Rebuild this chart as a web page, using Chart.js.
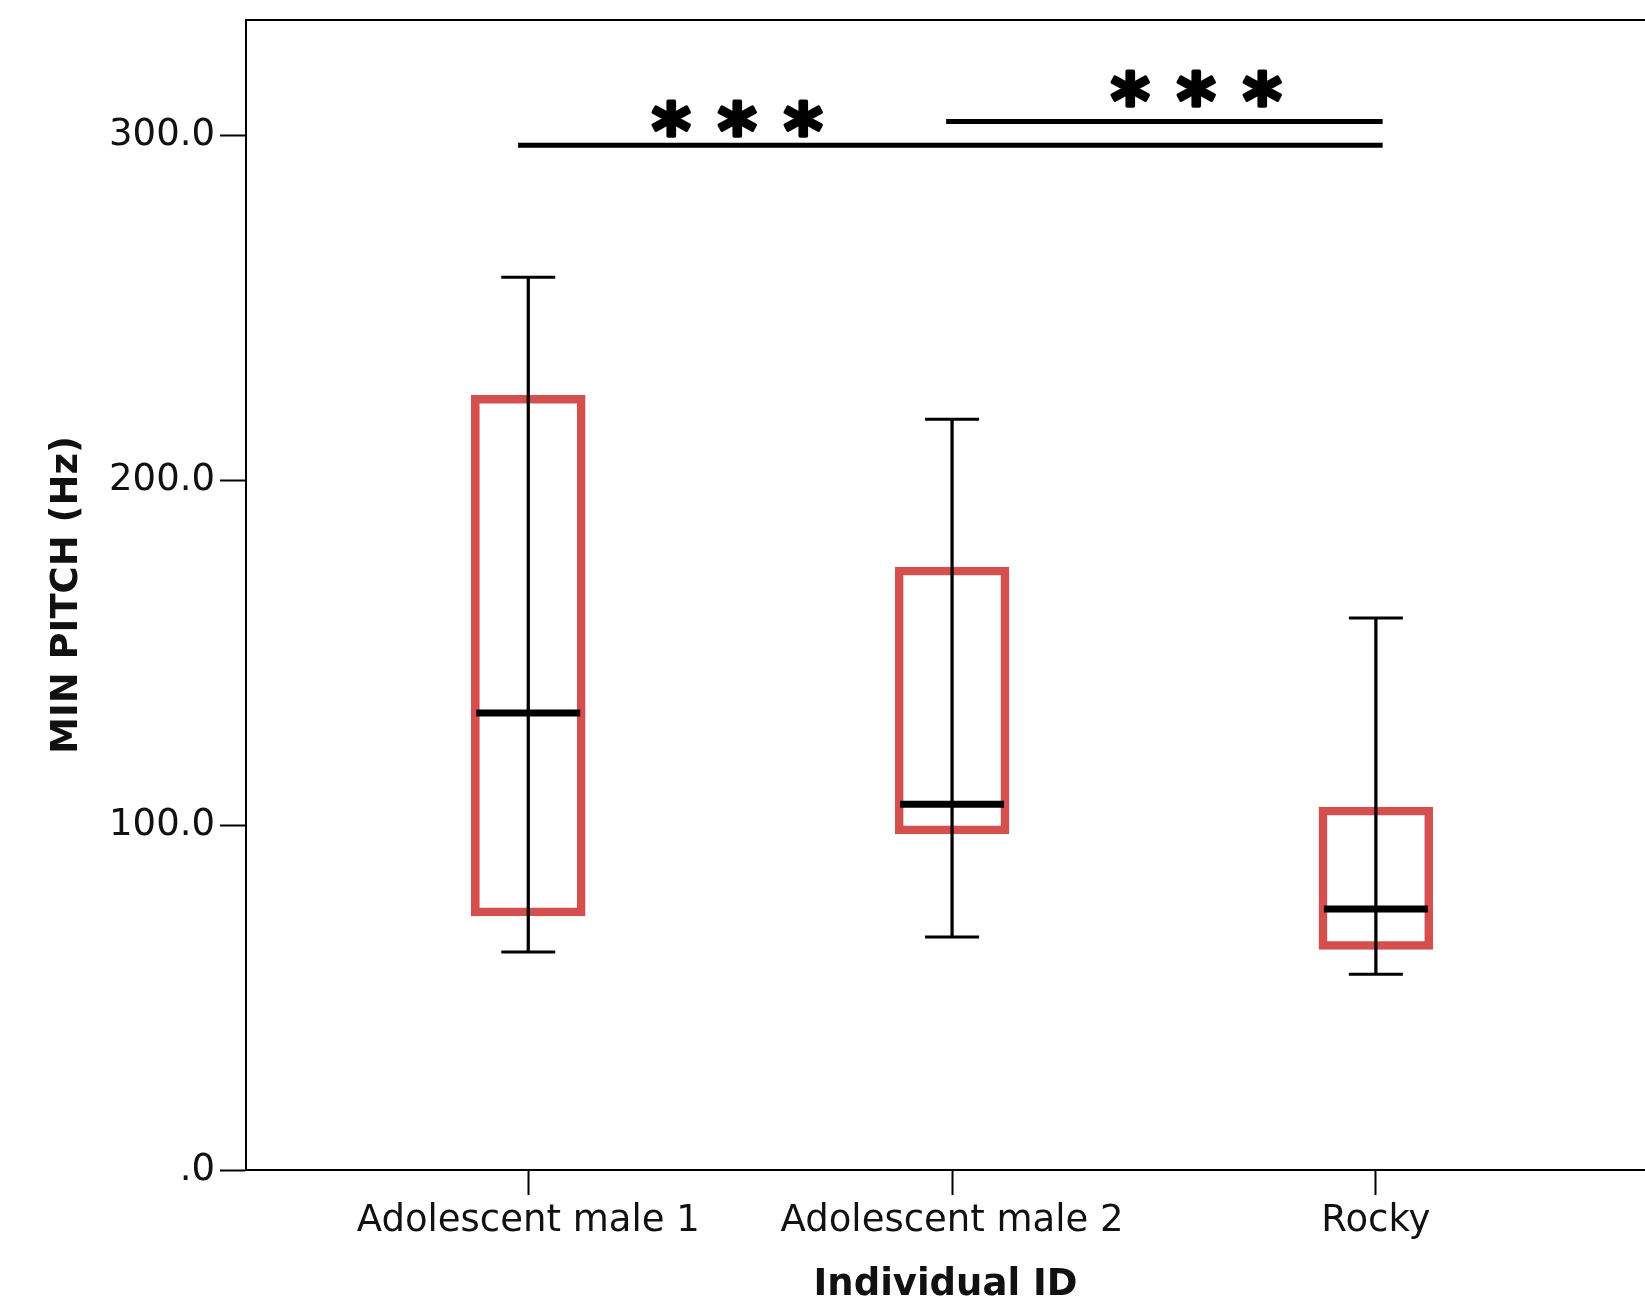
<!DOCTYPE html>
<html>
<head>
<meta charset="utf-8">
<script src="https://cdn.jsdelivr.net/npm/chart.js@4"></script>
<style>
  html, body { margin: 0; padding: 0; background: #ffffff; }
  #wrap { width: 1645px; height: 1308px; }
</style>
</head>
<body>
<div id="wrap"><canvas id="c" width="1645" height="1308"></canvas></div>
<script>
// ---- data ----
const categories = ['Adolescent male 1', 'Adolescent male 2', 'Rocky'];
const whiskerLow  = [63.2, 67.6, 56.8];
const q1          = [74.8, 98.6, 65.1];
const median      = [132.5, 106.1, 75.7];
const q3          = [223.5, 173.7, 104.1];
const whiskerHigh = [258.9, 217.7, 160.1];

const yTickValues = [0, 100, 200, 300];
const yTickLabels = ['.0', '100.0', '200.0', '300.0'];

// significance brackets (x in category index units, y in Hz)
const sigLabels = ['***', '***'];
const sigFrom   = [-0.024, 0.986];
const sigTo     = [2.016, 2.016];
const sigLevel  = [297.2, 304.1];
const sigStarX  = [0.493, 1.576];
const sigStarY  = [305.0, 313.5];

const yTitle = 'MIN PITCH (Hz)';
const xTitle = 'Individual ID';

// ---- styles ----
const FONT = '"DejaVu Sans", Verdana, sans-serif';
const RED = '#d4504e';
const BLACK = '#000000';

const idx = categories.map((_, i) => i);

const datasets = [
  {
    type: 'bar',
    label: 'box',
    data: idx.map(i => ({ x: i, y: [q1[i], q3[i]] })),
    backgroundColor: 'rgba(0,0,0,0)',
    borderColor: RED,
    borderWidth: 0.01,
    inflateAmount: 4.3,
    borderSkipped: false,
    barThickness: 106,
    grouped: false,
    order: 5
  },
  {
    type: 'bar',
    label: 'whisker',
    data: idx.map(i => ({ x: i, y: [whiskerLow[i], whiskerHigh[i]] })),
    backgroundColor: BLACK,
    borderWidth: 0,
    barThickness: 2.6,
    grouped: false,
    order: 4
  },
  {
    type: 'scatter',
    label: 'median',
    data: idx.map(i => ({ x: i, y: median[i] })),
    pointStyle: 'line',
    pointRadius: 52,
    pointHoverRadius: 52,
    borderColor: BLACK,
    borderWidth: 7,
    order: 1
  },
  {
    type: 'scatter',
    label: 'capLow',
    data: idx.map(i => ({ x: i, y: whiskerLow[i] })),
    pointStyle: 'line',
    pointRadius: 27,
    pointHoverRadius: 27,
    borderColor: BLACK,
    borderWidth: 3,
    order: 2
  },
  {
    type: 'scatter',
    label: 'capHigh',
    data: idx.map(i => ({ x: i, y: whiskerHigh[i] })),
    pointStyle: 'line',
    pointRadius: 27,
    pointHoverRadius: 27,
    borderColor: BLACK,
    borderWidth: 3,
    order: 2
  }
];

sigLabels.forEach((lab, k) => {
  datasets.push({
    type: 'line',
    label: 'sig' + k,
    data: [{ x: sigFrom[k], y: sigLevel[k] }, { x: sigTo[k], y: sigLevel[k] }],
    borderColor: BLACK,
    borderWidth: 5,
    pointRadius: 0,
    fill: false,
    order: 1
  });
});

const starPlugin = {
  id: 'stars',
  afterDatasetsDraw(chart) {
    const ctx = chart.ctx;
    const xs = chart.scales.x, ys = chart.scales.y;
    const targetH = 35;    // glyph height in px (before stroke thickening)
    const spacing = 66;    // distance between star centres in px
    ctx.save();
    ctx.font = 'bold 100px ' + FONT;
    const m0 = ctx.measureText('*');
    const h0 = m0.actualBoundingBoxAscent + m0.actualBoundingBoxDescent;
    const size = 100 * targetH / h0;
    ctx.font = 'bold ' + size.toFixed(1) + 'px ' + FONT;
    const m = ctx.measureText('*');
    ctx.fillStyle = BLACK;
    ctx.strokeStyle = BLACK;
    ctx.lineWidth = 3.5;
    ctx.lineJoin = 'round';
    ctx.textAlign = 'center';
    ctx.textBaseline = 'alphabetic';
    sigLabels.forEach((lab, k) => {
      const cx = xs.getPixelForValue(sigStarX[k]);
      const cy = ys.getPixelForValue(sigStarY[k]);
      const base = cy + (m.actualBoundingBoxAscent - m.actualBoundingBoxDescent) / 2;
      const n = lab.length;
      for (let j = 0; j < n; j++) {
        const x = cx + (j - (n - 1) / 2) * spacing;
        ctx.fillText(lab[j], x, base);
        ctx.strokeText(lab[j], x, base);
      }
    });
    ctx.restore();
  }
};

function zeroPad(s) {
  s.paddingTop = 0; s.paddingBottom = 0; s.paddingLeft = 0; s.paddingRight = 0;
}

new Chart(document.getElementById('c'), {
  type: 'bar',
  data: { datasets },
  options: {
    responsive: false,
    animation: false,
    devicePixelRatio: 1,
    events: [],
    layout: { autoPadding: false, padding: { top: 20, right: 0, bottom: 0, left: 0 } },
    plugins: {
      legend: { display: false },
      tooltip: { enabled: false }
    },
    scales: {
      x: {
        type: 'linear',
        position: 'bottom',
        offset: false,
        min: -0.666,
        max: 2.635,
        afterFit: (s) => { s.height = 138; zeroPad(s); },
        afterBuildTicks: (s) => { s.ticks = idx.map(v => ({ value: v })); },
        grid: {
          display: true,
          offset: false,
          drawOnChartArea: false,
          drawTicks: true,
          tickLength: 25,
          tickWidth: 2,
          tickColor: BLACK,
          color: BLACK
        },
        border: { display: true, color: BLACK, width: 2 },
        ticks: {
          autoSkip: false,
          maxRotation: 0,
          minRotation: 0,
          padding: 4,
          color: '#111111',
          font: { family: FONT, size: 37 },
          callback: (v) => categories[v] !== undefined ? categories[v] : ''
        },
        title: {
          display: true,
          text: xTitle,
          color: '#111111',
          font: { family: FONT, size: 37, weight: 'bold', lineHeight: 1 },
          padding: { top: 0, bottom: 4 }
        }
      },
      xTop: {
        type: 'linear',
        position: 'top',
        offset: false,
        min: 0, max: 1,
        afterFit: (s) => { s.height = 0; zeroPad(s); },
        grid: { display: false, drawTicks: false },
        ticks: { display: false },
        border: { display: true, color: BLACK, width: 2 }
      },
      y: {
        type: 'linear',
        position: 'left',
        min: 0,
        max: 333.5,
        afterFit: (s) => { s.width = 246; zeroPad(s); },
        afterBuildTicks: (s) => { s.ticks = yTickValues.map(v => ({ value: v })); },
        grid: {
          display: true,
          drawOnChartArea: false,
          drawTicks: true,
          tickLength: 26,
          tickWidth: 2,
          tickColor: BLACK,
          color: BLACK
        },
        border: { display: true, color: BLACK, width: 2 },
        ticks: {
          padding: 5,
          color: '#111111',
          font: { family: FONT, size: 37 },
          callback: (v) => {
            const k = yTickValues.indexOf(v);
            return k >= 0 ? yTickLabels[k] : '';
          }
        },
        title: {
          display: true,
          text: yTitle,
          color: '#111111',
          font: { family: FONT, size: 37, weight: 'bold', lineHeight: 1 },
          padding: { top: 49, bottom: 0 }
        }
      }
    }
  },
  plugins: [starPlugin]
});
</script>
</body>
</html>
